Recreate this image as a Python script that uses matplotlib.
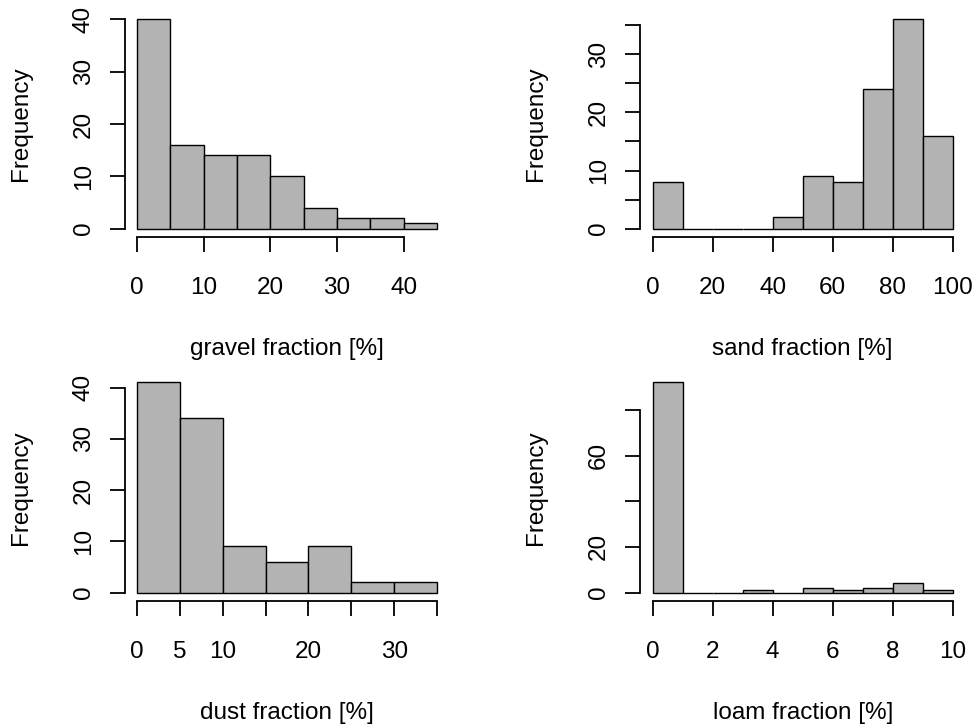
import numpy as np
import matplotlib
matplotlib.use("Agg")
import matplotlib.pyplot as plt

plt.rcParams['font.family'] = ['Liberation Sans', 'DejaVu Sans']

# histogram data (breaks + counts)
gravel_breaks = [0, 5, 10, 15, 20, 25, 30, 35, 40, 45]
gravel_counts = [40, 16, 14, 14, 10, 4, 2, 2, 1]
sand_breaks = [0, 10, 20, 30, 40, 50, 60, 70, 80, 90, 100]
sand_counts = [8, 0, 0, 0, 2, 9, 8, 24, 36, 16]
dust_breaks = [0, 5, 10, 15, 20, 25, 30, 35]
dust_counts = [41, 34, 9, 6, 9, 2, 2]
loam_breaks = [0, 1, 2, 3, 4, 5, 6, 7, 8, 9, 10]
loam_counts = [92, 0, 0, 1, 0, 2, 1, 2, 4, 1]

# axis ticks and which of them get a label (R drops overlapping ones)
gravel_xticks = [0, 10, 20, 30, 40]
gravel_yticks = [0, 10, 20, 30, 40]
gravel_ylabels = ['0', '10', '20', '30', '40']
sand_xticks = [0, 20, 40, 60, 80, 100]
sand_yticks = [0, 5, 10, 15, 20, 25, 30, 35]
sand_ylabels = ['0', '', '10', '', '20', '', '30', '']
dust_xticks = [0, 5, 10, 15, 20, 25, 30, 35]
dust_xlabels = ['0', '5', '10', '', '20', '', '30', '']
dust_yticks = [0, 10, 20, 30, 40]
dust_ylabels = ['0', '10', '20', '30', '40']
loam_xticks = [0, 2, 4, 6, 8, 10]
loam_yticks = [0, 20, 40, 60, 80]
loam_ylabels = ['0', '20', '', '60', '']

panels = [
    ("gravel fraction [%]", gravel_breaks, gravel_counts, gravel_xticks, None, gravel_yticks, gravel_ylabels),
    ("sand fraction [%]", sand_breaks, sand_counts, sand_xticks, None, sand_yticks, sand_ylabels),
    ("dust fraction [%]", dust_breaks, dust_counts, dust_xticks, dust_xlabels, dust_yticks, dust_ylabels),
    ("loam fraction [%]", loam_breaks, loam_counts, loam_xticks, None, loam_yticks, loam_ylabels),
]

W, H = 978, 726
# plot regions in pixels: (left, top, right, bottom)
boxes = [(125, 11, 449, 237), (640.5, 11, 965, 237),
         (125, 374, 449, 601), (640.5, 374, 965, 601)]

fig = plt.figure(figsize=(W / 100, H / 100), dpi=100)
fs = 17.5

for (xlab, br, cnt, xt, xtl, yt, ytl), (l, t, r, b) in zip(panels, boxes):
    ax = fig.add_axes([l / W, 1 - b / H, (r - l) / W, (b - t) / H])
    br = np.array(br)
    ax.bar(br[:-1], cnt, width=np.diff(br), align='edge', color='#b3b3b3',
           edgecolor='black', linewidth=1.0, clip_on=False)
    # R style 4% padding
    x0, x1 = br[0], br[-1]
    ymax = max(cnt)
    ax.set_xlim(x0 - 0.04 * (x1 - x0), x1 + 0.04 * (x1 - x0))
    ax.set_ylim(-0.04 * ymax, 1.04 * ymax)

    for s in ['top', 'right']:
        ax.spines[s].set_visible(False)
    ax.spines['left'].set_bounds(yt[0], yt[-1])
    ax.spines['bottom'].set_bounds(xt[0], xt[-1])
    ax.spines['left'].set_linewidth(1.3)
    ax.spines['bottom'].set_linewidth(1.3)

    ax.set_xticks(xt)
    ax.set_xticklabels(xtl if xtl else [str(v) for v in xt], fontsize=fs)
    ax.set_yticks(yt)
    ax.set_yticklabels(ytl, fontsize=fs, rotation=90, va='center')
    ax.tick_params(axis='x', length=10.8, width=1.3, pad=18)
    ax.tick_params(axis='y', length=10.8, width=1.3, pad=11)

    ax.set_xlabel(xlab, fontsize=fs)
    ax.set_ylabel("Frequency", fontsize=fs)
    ax.xaxis.set_label_coords(0.5, -0.445)
    ax.yaxis.set_label_coords(-93 / (r - l), 0.5)

fig.savefig("out.png", dpi=100, facecolor='white')
